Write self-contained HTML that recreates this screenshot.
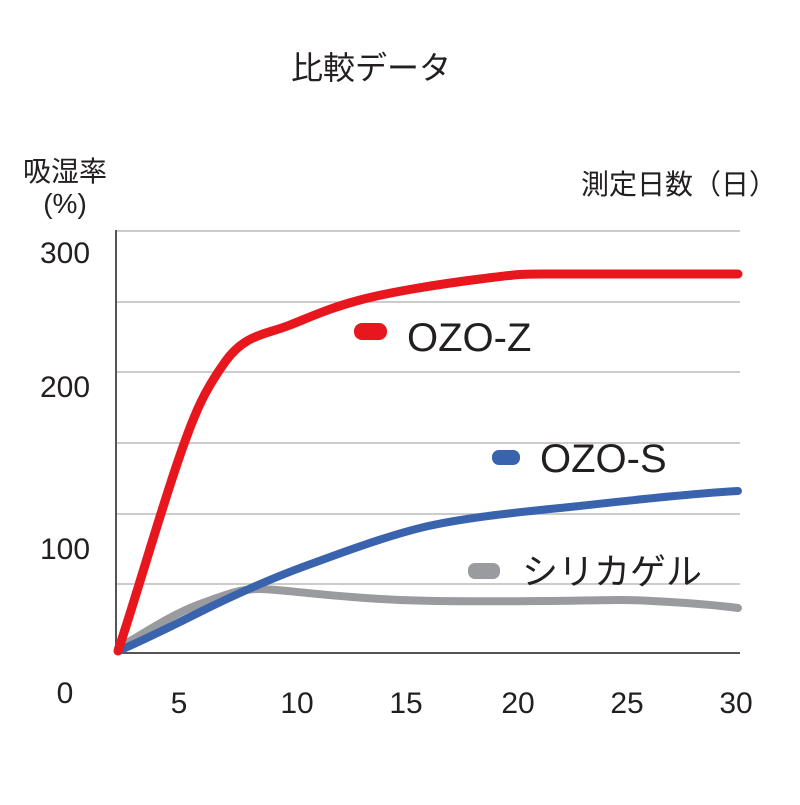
<!DOCTYPE html>
<html><head><meta charset="utf-8"><style>
body{margin:0;background:#fff}
svg text{font-family:"Liberation Sans","Noto Sans CJK JP",sans-serif;fill:#231f20}
</style></head><body>
<svg width="800" height="800" viewBox="0 0 800 800" xmlns="http://www.w3.org/2000/svg">
<text x="371" y="79" font-size="32" text-anchor="middle">比較データ</text>
<text x="65" y="181" font-size="28" text-anchor="middle">吸湿率</text>
<text x="65" y="213" font-size="28" text-anchor="middle">(%)</text>
<text x="777" y="194" font-size="28" text-anchor="end">測定日数（日）</text>
<g stroke="#bbb" stroke-width="1.5">
<line x1="116" y1="231" x2="740" y2="231"/>
<line x1="116" y1="302" x2="740" y2="302"/>
<line x1="116" y1="372" x2="740" y2="372"/>
<line x1="116" y1="443" x2="740" y2="443"/>
<line x1="116" y1="514" x2="740" y2="514"/>
<line x1="116" y1="584" x2="740" y2="584"/>
</g>
<line x1="116" y1="230" x2="116" y2="654" stroke="#555" stroke-width="2"/>
<line x1="115" y1="653" x2="740" y2="653" stroke="#555" stroke-width="2"/>
<g font-size="30">
<text x="65" y="263" text-anchor="middle">300</text>
<text x="65" y="397" text-anchor="middle">200</text>
<text x="65" y="559" text-anchor="middle">100</text>
<text x="65" y="703" text-anchor="middle">0</text>
<text x="179" y="713" text-anchor="middle">5</text>
<text x="297" y="713" text-anchor="middle">10</text>
<text x="406" y="713" text-anchor="middle">15</text>
<text x="518" y="713" text-anchor="middle">20</text>
<text x="627" y="713" text-anchor="middle">25</text>
<text x="736" y="713" text-anchor="middle">30</text>
</g>
<g fill="none" stroke-linecap="round" stroke-linejoin="round">
<path d="M118,648 C140,636 170,615 200,604 S240,589 260,589 S330,597 400,600 S600,600 620,600 S700,603 738,608" stroke="#9a9b9f" stroke-width="8"/>
<path d="M118,651 C140,642 170,627 200,612 S270,579 300,568 S380,538 420,528 S520,512 560,508 S680,494 738,491" stroke="#3a63ad" stroke-width="8"/>
<path d="M118,651 C135,600 155,530 175,470 S205,390 225,362 S265,335 290,325 S330,308 360,300 S440,284 480,279 S520,274 545,274 L738,274" stroke="#e8171d" stroke-width="9"/>
</g>
<rect x="354" y="323" width="33" height="17" rx="8" fill="#e8171d"/>
<text x="407" y="351" font-size="40">OZO-Z</text>
<rect x="492" y="450" width="28" height="15" rx="7" fill="#3a63ad"/>
<text x="540" y="472" font-size="40">OZO-S</text>
<rect x="468" y="563" width="32" height="16" rx="7" fill="#9a9b9f"/>
<text x="522" y="584" font-size="36">シリカゲル</text>
</svg>
</body></html>
